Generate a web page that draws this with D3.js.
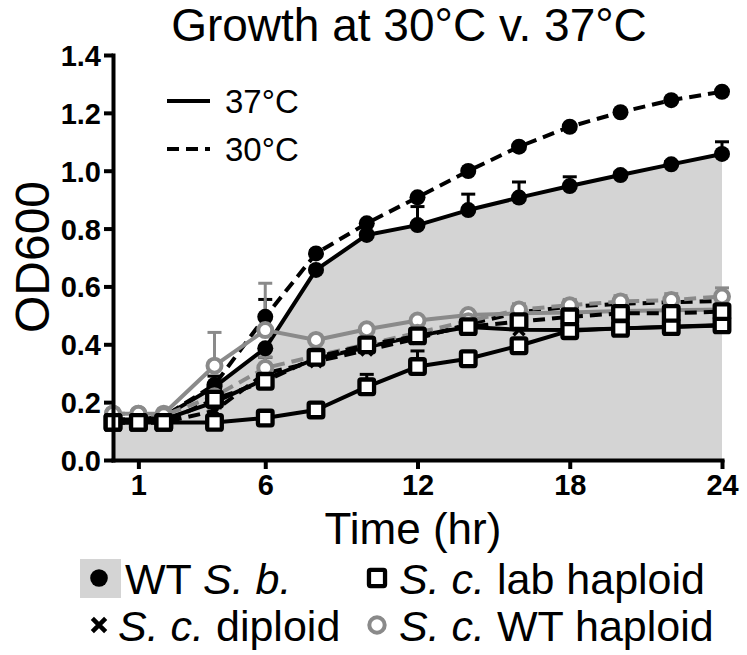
<!DOCTYPE html>
<html><head><meta charset="utf-8">
<script src="https://cdn.jsdelivr.net/npm/d3@7"></script>
<style>body{margin:0;background:#fff} svg{display:block}</style>
</head><body><svg id="c" width="747" height="655"></svg>
<script>
// ---- data ----
const times = [0,1,2,4,6,8,10,12,14,16,18,20,22,24];
const xTicks = [1,6,12,18,24];
const yTicks = [0,0.2,0.4,0.6,0.8,1.0,1.2,1.4];

const sb37     = [0.14,0.14,0.15,0.253,0.386,0.657,0.778,0.812,0.864,0.907,0.947,0.985,1.022,1.058];
const sb37Err  = [0,0,0,0.037,0,0.01,0.01,0.064,0.055,0.054,0.032,0.01,0.01,0.042];
const sb30     = [0.14,0.14,0.15,0.26,0.495,0.714,0.818,0.908,0.999,1.083,1.152,1.202,1.244,1.273];
const sb30Err  = [0,0,0.01,0,0.06,0.01,0,0,0,0,0,0,0,0];
const lab37    = [0.13,0.13,0.13,0.13,0.145,0.173,0.253,0.323,0.35,0.395,0.447,0.455,0.461,0.467];
const lab37Err = [0,0,0,0,0,0,0.043,0.054,0,0,0,0,0,0];
const lab30    = [0.13,0.13,0.13,0.21,0.272,0.355,0.398,0.429,0.461,0.478,0.495,0.507,0.507,0.513];
const lab30Err = [0,0,0,0,0,0,0,0,0,0,0,0,0,0];
const dip37    = [0.13,0.13,0.14,0.2,0.28,0.35,0.39,0.43,0.46,0.45,0.449,0.455,0.46,0.465];
const dip37Err = [0,0,0,0.01,0.02,0.02,0.02,0.02,0.02,0.02,0.02,0.02,0.02,0.02];
const dip30    = [0.13,0.13,0.13,0.17,0.30,0.34,0.38,0.42,0.47,0.51,0.53,0.54,0.545,0.55];
const dip30Err = [0,0,0,0.01,0.055,0.02,0.02,0.02,0.02,0.02,0.02,0.02,0.02,0.02];
const wt37     = [0.16,0.16,0.16,0.326,0.449,0.415,0.452,0.482,0.501,0.507,0.51,0.515,0.518,0.52];
const wt37Err  = [0,0,0,0.115,0.162,0,0,0,0.01,0.01,0.01,0.01,0.01,0.01];
const wt30     = [0.16,0.16,0.155,0.22,0.318,0.36,0.40,0.44,0.48,0.52,0.535,0.548,0.553,0.565];
const wt30Err  = [0,0,0,0,0.037,0,0,0,0.01,0.02,0.02,0.02,0.022,0.03];

const legendTemps = ["37°C","30°C"];

// ---- layout ----
const svg = d3.select("#c");
const x = d3.scaleLinear().domain([0,24]).range([113,722]);
const y = d3.scaleLinear().domain([0,1.4]).range([460,55]);
const FONT = "'Liberation Sans', Arial, Helvetica, sans-serif";
const GRAY = "#8a8a8a";
const FILL = "#d4d4d4";
const DASH = "12,7";

const series = [
  {v: dip37, e: dip37Err, dash: null, color: "#000", marker: "x"},
  {v: dip30, e: dip30Err, dash: DASH, color: "#000", marker: "x"},
  {v: sb37,  e: sb37Err,  dash: null, color: "#000", marker: "dot"},
  {v: sb30,  e: sb30Err,  dash: DASH, color: "#000", marker: "dot"},
  {v: wt37,  e: wt37Err,  dash: null, color: GRAY,  marker: "ring"},
  {v: wt30,  e: wt30Err,  dash: DASH, color: GRAY,  marker: "ring"},
  {v: lab37, e: lab37Err, dash: null, color: "#000", marker: "sq"},
  {v: lab30, e: lab30Err, dash: DASH, color: "#000", marker: "sq"},
];

// area under WT S.b. 37°C
const area = d3.area().x((d,i)=>x(times[i])).y0(y(0)).y1(d=>y(d));
svg.append("path").datum(sb37).attr("d", area).attr("fill", FILL);

// lines
const line = d3.line().x((d,i)=>x(times[i])).y(d=>y(d));
[2,3,0,1,4,5,6,7].forEach(k=>{
  const s = series[k];
  svg.append("path").datum(s.v).attr("d", line)
    .attr("fill","none").attr("stroke", s.color).attr("stroke-width", 4)
    .attr("stroke-dasharray", s.dash).attr("stroke-linejoin","round");
});

// error bars (upward)
series.forEach(s=>{
  const g = svg.append("g").attr("stroke", s.color).attr("stroke-width", 3);
  s.v.forEach((v,i)=>{
    if (!s.e[i]) return;
    const cx = x(times[i]), y0 = y(v), y1 = y(v + s.e[i]);
    g.append("line").attr("x1",cx).attr("x2",cx).attr("y1",y0).attr("y2",y1);
    g.append("line").attr("x1",cx-7).attr("x2",cx+7).attr("y1",y1).attr("y2",y1);
  });
});

// markers
function drawMarker(g, type, cx, cy, color, big){
  const k = big ? 1.1 : 1;
  if (type === "dot") {
    g.append("circle").attr("cx",cx).attr("cy",cy).attr("r",8*k).attr("fill","#000");
  } else if (type === "ring") {
    g.append("circle").attr("cx",cx).attr("cy",cy).attr("r",7*k)
      .attr("fill","#fff").attr("stroke",color).attr("stroke-width",4);
  } else if (type === "sq") {
    const h = 7.3*k;
    g.append("rect").attr("x",cx-h).attr("y",cy-h).attr("width",2*h).attr("height",2*h)
      .attr("rx",1.5).attr("fill","#fff").attr("stroke","#000").attr("stroke-width",4.3);
  } else if (type === "x") {
    const r = 5.5*k*(big?1.1:1);
    g.append("path").attr("d",`M${cx-r},${cy-r}L${cx+r},${cy+r}M${cx-r},${cy+r}L${cx+r},${cy-r}`)
      .attr("stroke","#000").attr("stroke-width",big?4.5:3.5).attr("fill","none");
  }
}
series.forEach(s=>{
  const g = svg.append("g");
  s.v.forEach((v,i)=> drawMarker(g, s.marker, x(times[i]), y(v), s.color));
});

// axes
const yAxis = d3.axisLeft(y).tickValues(yTicks).tickFormat(d3.format(".1f")).tickSize(9).tickSizeOuter(0).tickPadding(3);
const xAxis = d3.axisBottom(x).tickValues(xTicks).tickFormat(d3.format("d")).tickSize(9).tickSizeOuter(0).tickPadding(5);
const gy = svg.append("g").attr("transform","translate(113,0)").call(yAxis);
const gx = svg.append("g").attr("transform","translate(0,460)").call(xAxis);
[gx, gy].forEach(g=>{
  g.select(".domain").attr("stroke","#000").attr("stroke-width",4).attr("stroke-linecap","square");
  g.selectAll(".tick line").attr("stroke","#000").attr("stroke-width",4);
  g.selectAll(".tick text").attr("fill","#000").attr("font-family",FONT)
    .attr("font-weight","bold").attr("font-size",29);
});
gy.selectAll(".tick text").attr("dy","0.36em");

// title & axis titles
svg.append("text").attr("x",409).attr("y",41).attr("text-anchor","middle")
  .attr("font-family",FONT).attr("font-size",46).text("Growth at 30°C v. 37°C");
svg.append("text").attr("x",413).attr("y",544).attr("text-anchor","middle")
  .attr("font-family",FONT).attr("font-size",44).text("Time (hr)");
svg.append("text").attr("transform","translate(49,257) rotate(-90)").attr("text-anchor","middle")
  .attr("font-family",FONT).attr("font-size",48).text("OD600");

// in-plot legend (temperatures)
const lg = svg.append("g");
legendTemps.forEach((t,i)=>{
  const yy = 101 + i*48;
  lg.append("line").attr("x1",167).attr("x2",210).attr("y1",yy).attr("y2",yy)
    .attr("stroke","#000").attr("stroke-width",4).attr("stroke-dasharray", i ? DASH : null);
  lg.append("text").attr("x",225).attr("y",yy+12).attr("font-family",FONT).attr("font-size",33).text(t);
});

// bottom legend (strains)
const bl = svg.append("g").attr("font-family",FONT).attr("font-size",43);
bl.append("rect").attr("x",80).attr("y",559).attr("width",41).attr("height",39).attr("fill",FILL);
drawMarker(bl, "dot", 99, 578, "#000", true);
drawMarker(bl, "sq", 377, 578, "#000", true);
drawMarker(bl, "x", 99, 625, "#000", true);
drawMarker(bl, "ring", 377, 625, GRAY, true);
function legText(xx, yy, parts){
  const t = bl.append("text").attr("x",xx).attr("y",yy);
  parts.forEach(p=> t.append("tspan").attr("font-style", p[1] ? "italic" : null).text(p[0]));
}
legText(125, 594, [["WT ",0],["S. b.",1]]);
legText(399, 594, [["S. c.",1],[" lab haploid",0]]);
legText(118, 641, [["S. c.",1],[" diploid",0]]);
legText(399, 641, [["S. c.",1],[" WT haploid",0]]);
</script></body></html>
